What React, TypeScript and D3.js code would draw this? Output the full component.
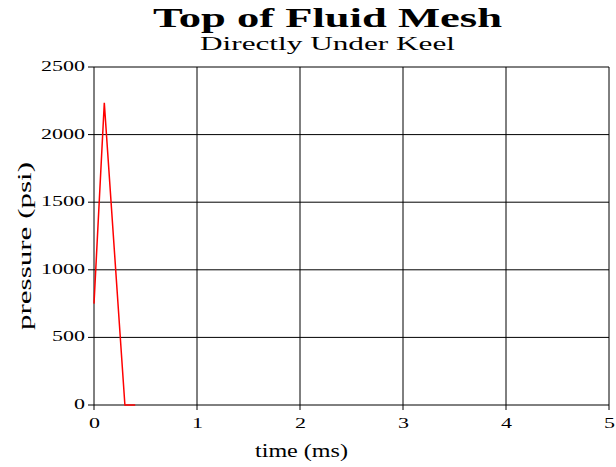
import * as React from "react";
import * as d3 from "d3";

const timeMs = [0, 0.1, 0.3, 0.4];
const pressurePsi = [750, 2235, 0, 0];
const xTicks = [0, 1, 2, 3, 4, 5];
const yTicks = [0, 500, 1000, 1500, 2000, 2500];

const W = 616;
const H = 467;
const left = 94;
const right = 609;
const top = 67;
const bottom = 405;
const font = "Liberation Serif";

export default function App() {
  const x = d3.scaleLinear().domain([0, 5]).range([left, right]);
  const y = d3.scaleLinear().domain([0, 2500]).range([bottom, top]);
  const line = d3
    .line<number>()
    .x((_, i) => x(timeMs[i]))
    .y((d) => y(d));

  return (
    <svg
      width={W}
      height={H}
      style={{ position: "absolute", left: 0, top: 0, background: "#fff" }}
    >
      <text x={153} y={27} style={{ fontFamily: font }} fontWeight="bold" fontSize={28}
        textLength={349} lengthAdjust="spacingAndGlyphs">
        Top of Fluid Mesh
      </text>
      <text x={200} y={50} style={{ fontFamily: font }} fontSize={18}
        textLength={255} lengthAdjust="spacingAndGlyphs">
        Directly Under Keel
      </text>

      {yTicks.map((t) => (
        <g key={"y" + t}>
          <line x1={left - 6} x2={right} y1={y(t)} y2={y(t)} stroke="#000" strokeWidth={1} />
          <text x={left - 9} y={y(t) + 4} textAnchor="end" style={{ fontFamily: font }} fontSize={14}
            textLength={String(t).length * 11} lengthAdjust="spacingAndGlyphs">
            {t}
          </text>
        </g>
      ))}
      {xTicks.map((t) => (
        <g key={"x" + t}>
          <line x1={x(t)} x2={x(t)} y1={top} y2={bottom + 5} stroke="#000" strokeWidth={1} />
          <text x={x(t) - 5} y={bottom + 23} style={{ fontFamily: font }} fontSize={14}
            textLength={11} lengthAdjust="spacingAndGlyphs">
            {t}
          </text>
        </g>
      ))}

      <path d={line(pressurePsi) || ""} fill="none" stroke="#ff0000" strokeWidth={1.5} />

      <text x={255} y={457} style={{ fontFamily: font }} fontSize={19}
        textLength={93} lengthAdjust="spacingAndGlyphs">
        time (ms)
      </text>
      <text
        transform={`translate(31,330) rotate(-90)`}
        style={{ fontFamily: font }}
        fontSize={19}
        textLength={168}
        lengthAdjust="spacingAndGlyphs"
      >
        pressure (psi)
      </text>
    </svg>
  );
}
